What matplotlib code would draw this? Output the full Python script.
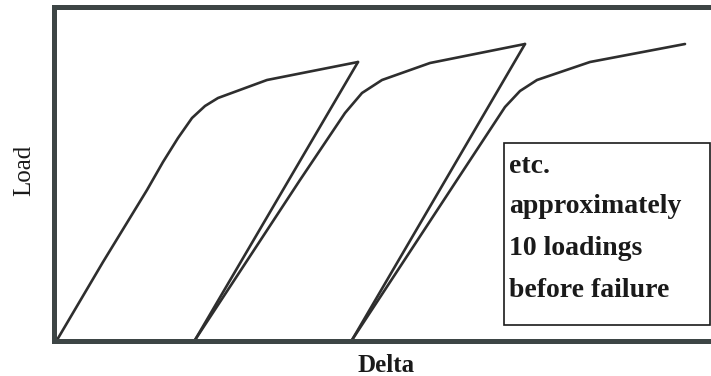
import matplotlib
matplotlib.use("Agg")
import matplotlib.pyplot as plt
from matplotlib.patches import Rectangle

W, H = 711, 376

# Data (arbitrary units: delta to the right, load upward)
load1_delta = [57, 103, 147, 163, 178, 192, 205, 218, 267, 358]
load1_load = [0.5, 78.5, 150.5, 178.5, 202.5, 222.5, 234.5, 242.5, 260.5, 278.5]

unload1_delta = [358, 195]
unload1_load = [278.5, 0.5]

load2_delta = [195, 300, 345, 362, 382, 430, 525]
load2_load = [0.5, 160.5, 227.5, 247.5, 260.5, 277.5, 296.5]

unload2_delta = [525, 352]
unload2_load = [296.5, 0.5]

load3_delta = [352, 457, 505, 520, 537, 590, 685]
load3_load = [0.5, 160.5, 233.5, 249.5, 260.5, 278.5, 296.5]

note_lines = ["etc.", "approximately", "10 loadings", "before failure"]
x_label = "Delta"
y_label = "Load"

serif = ["Liberation Serif", "DejaVu Serif"]

fig = plt.figure(figsize=(W / 100, H / 100), dpi=100)
fig.patch.set_facecolor("white")

left_px, right_px, top_px, bottom_px = 54, 730, 7, 340.5
ax = fig.add_axes([left_px / W, (H - bottom_px) / H,
                   (right_px - left_px) / W, (bottom_px - top_px) / H])
ax.set_xlim(left_px, right_px)
ax.set_ylim(0, bottom_px - top_px)
ax.set_xticks([])
ax.set_yticks([])
spine_color = "#3d4545"
for side in ["left", "top", "bottom"]:
    ax.spines[side].set_linewidth(3.6)
    ax.spines[side].set_color(spine_color)
ax.spines["right"].set_visible(False)

line_kw = dict(color="#2e2e2e", lw=1.9, solid_capstyle="round", solid_joinstyle="round")
for dx, ld in [(load1_delta, load1_load), (unload1_delta, unload1_load),
               (load2_delta, load2_load), (unload2_delta, unload2_load),
               (load3_delta, load3_load)]:
    ax.plot(dx, ld, **line_kw)

# Note box
box = Rectangle((504, bottom_px - 325), 709.5 - 504, 325 - 143,
                fill=False, edgecolor="#1a1a1a", lw=1.2, clip_on=False)
ax.add_patch(box)
baselines = [173, 213, 255, 297]
for txt, b in zip(note_lines, baselines):
    ax.text(509, bottom_px - b, txt, ha="left", va="baseline",
            fontsize=20, fontweight="bold", family=serif, color="#1a1a1a")

fig.text(386 / W, 1 - 365 / H, x_label, ha="center", va="center",
         fontsize=18, fontweight="bold", family=serif, color="#1a1a1a")
fig.text(24 / W, 1 - 170 / H, y_label, ha="center", va="center", rotation=90,
         fontsize=18, family=serif, color="#1a1a1a")

fig.savefig("out.png", dpi=100, facecolor="white")
